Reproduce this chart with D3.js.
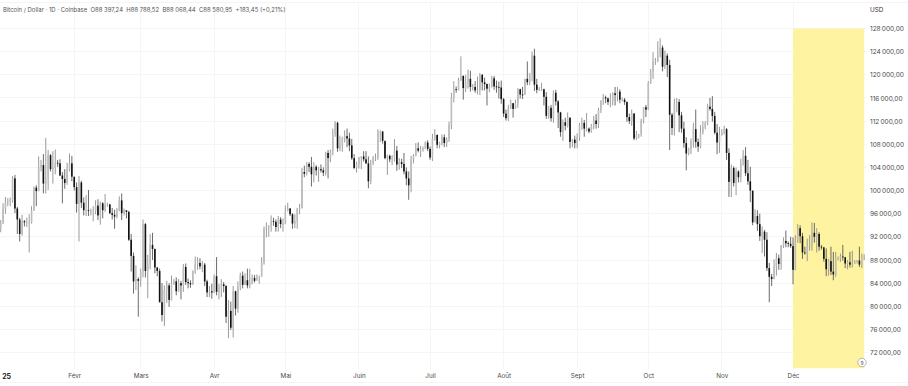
<!DOCTYPE html>
<html>
<head>
<meta charset="utf-8">
<script src="https://cdn.jsdelivr.net/npm/d3@7"></script>
<style>
    html, body { margin: 0; background: #fff; }
    svg { display: block; font-family: Inter, "Noto Sans", sans-serif; }
    .axis path, .axis line { display: none; }
    .axis text { fill: #4a4a4a; font-size: 6.5px; font-family: Inter, "Noto Sans", sans-serif; }
    .grid { stroke: #f5f5f5; stroke-width: 1; shape-rendering: crispEdges; }
</style>
</head>
<body>
<div id="chart"></div>
<script>
// daily values in thousands of USD, 2025
const firstOpen = 93.4;
const closes = [
    94.4,96.9,98.1,98.2,98.3,102.1,96.9,95.0,92.5,94.7,94.5,94.5,94.5,96.5,100.5,99.9,104.1,104.4,101.2,102.0,106.1,103.7,103.9,104.8,104.7,102.6,102.0,101.3,103.7,104.7,102.4,
    100.6,97.7,101.4,97.9,96.6,96.6,96.5,96.5,96.5,97.4,95.7,97.8,96.6,97.5,97.6,96.1,95.8,95.5,96.6,98.3,96.1,96.6,96.3,91.5,88.7,84.3,84.7,84.4,
    86.0,94.2,86.1,87.2,90.6,89.9,86.7,86.1,80.7,78.5,82.9,83.6,81.1,83.9,84.3,82.6,84.0,83.6,86.8,84.2,84.0,83.8,86.0,87.3,87.5,86.9,87.2,84.3,82.4,82.6,82.4,
    85.2,82.5,83.1,83.8,83.5,78.2,79.2,76.3,82.6,79.6,83.4,85.3,83.7,84.5,83.6,84.0,84.9,84.4,85.0,85.1,87.5,93.4,93.7,93.9,94.7,94.6,93.7,95.0,94.2,94.2,
    96.5,96.9,95.9,94.3,94.7,96.8,97.0,103.2,102.9,104.6,104.1,102.8,104.1,103.5,103.7,103.5,103.1,106.5,105.6,106.8,109.7,111.7,107.3,107.8,109.0,109.4,109.0,107.8,105.6,103.9,104.6,
    105.7,105.9,105.4,104.7,101.6,104.4,105.6,105.7,110.2,110.2,108.6,105.6,106.0,105.4,105.5,106.9,104.5,104.9,104.6,103.3,102.1,100.9,105.4,106.0,107.3,106.9,107.1,107.3,108.3,107.2,
    105.7,108.9,109.6,107.9,108.2,109.2,108.2,108.9,111.3,116.0,117.5,117.4,119.1,119.8,117.7,118.7,119.3,117.9,117.9,117.3,117.4,120.0,118.7,118.4,117.6,117.9,119.4,118.0,117.9,117.8,115.8,
    113.3,112.5,114.2,115.1,114.1,115.0,117.5,116.6,116.5,119.3,118.7,120.2,123.3,118.3,117.4,117.4,117.5,116.2,112.9,114.3,112.5,116.9,115.4,113.5,110.1,111.8,111.2,112.6,108.4,108.8,108.2,
    109.2,111.2,111.7,110.7,110.7,110.2,111.2,112.1,111.5,113.9,115.5,116.1,115.9,115.3,115.4,116.8,116.5,117.1,115.7,115.7,115.3,112.7,112.0,113.3,109.0,109.7,109.7,112.1,114.4,114.0,
    118.6,120.6,122.3,122.4,123.5,124.7,121.4,123.3,121.7,113.1,110.8,115.2,115.3,113.0,110.7,108.2,106.4,107.2,108.6,110.6,108.4,107.6,110.0,111.0,111.6,114.5,114.1,112.9,110.0,108.3,109.6,
    110.1,110.6,106.5,101.5,103.9,101.3,103.3,102.3,104.7,106.0,103.0,101.6,100.0,94.5,95.6,94.2,92.1,92.9,91.5,86.6,85.1,84.7,86.8,88.3,87.3,90.5,91.3,90.9,90.8,90.4,
    86.3,91.3,93.5,92.1,89.3,89.2,90.4,90.6,92.7,92.0,92.5,90.3,90.2,88.2,86.4,87.8,86.0,85.5,88.1,88.3,88.6,88.5,87.4,87.6,87.2,87.3,87.8,87.9,87.2,88.4,88.6
];
const highs = [
    94.9,97.8,98.9,98.7,98.8,102.5,102.7,97.2,95.3,95.8,94.9,95.3,95.9,97.3,100.7,100.9,105.9,105.3,106.3,109.1,107.0,106.3,106.8,107.1,105.3,105.4,103.2,103.7,104.8,106.4,106.0,
    102.0,101.4,102.5,101.7,98.8,99.2,100.1,96.9,97.3,98.3,98.5,98.1,98.0,99.4,97.9,97.7,97.0,96.7,97.0,99.0,99.5,96.9,96.5,96.5,92.5,89.3,87.1,85.0,
    86.5,95.0,94.4,88.9,92.5,92.7,90.0,86.8,86.5,84.0,83.6,84.4,84.0,85.3,84.7,85.0,84.7,84.4,87.3,87.4,84.8,84.5,86.2,88.6,88.5,88.3,87.8,87.5,84.6,83.5,83.9,
    85.5,88.5,83.9,84.7,84.2,83.7,81.1,80.8,83.5,82.7,84.3,85.8,86.0,85.7,86.5,86.5,85.5,85.4,85.5,85.3,88.5,93.8,94.5,94.0,95.7,95.3,95.0,95.6,95.4,95.2,
    97.4,97.9,97.0,96.1,95.9,97.0,97.7,103.9,104.3,104.9,104.9,105.8,104.9,104.4,104.1,104.5,104.0,106.7,107.0,107.1,110.7,112.0,111.9,109.5,109.3,110.4,110.7,110.0,108.9,106.3,105.0,
    105.8,105.9,106.8,106.8,105.9,105.3,106.0,106.4,110.6,110.4,110.3,108.4,106.2,106.2,106.1,108.9,107.7,105.6,105.5,106.5,104.0,103.3,106.0,106.3,108.2,108.3,107.7,107.6,108.5,108.7,
    107.6,109.8,110.6,109.7,108.4,109.7,109.7,109.2,111.9,116.9,118.9,118.0,119.5,123.2,119.9,120.0,120.9,120.7,118.4,118.9,119.7,120.3,120.1,119.5,118.5,118.5,119.8,119.8,119.0,118.8,119.0,
    116.0,114.0,114.8,115.7,115.1,115.7,117.7,117.6,117.9,119.3,122.3,120.3,124.0,124.5,119.3,117.9,118.6,117.6,117.0,114.6,114.8,117.3,117.4,115.6,113.6,112.3,112.6,113.5,112.6,108.9,109.5,
    109.9,111.7,112.6,112.2,113.4,110.9,111.5,112.9,113.2,114.3,115.6,116.7,116.4,116.1,116.8,117.0,117.9,117.9,117.5,116.1,116.0,115.4,113.3,114.0,113.4,110.3,109.8,112.4,114.4,114.8,
    118.9,121.0,123.9,122.9,125.8,126.3,125.1,124.2,123.7,122.6,113.4,115.9,116.0,115.8,113.6,111.9,109.2,107.4,109.0,111.7,114.0,109.0,111.3,112.0,112.0,115.0,116.0,116.3,113.6,111.5,111.0,
    110.6,111.2,110.8,107.3,104.5,104.2,104.0,103.5,105.5,107.0,107.5,105.3,104.1,99.9,96.8,96.6,96.0,93.8,93.2,92.8,87.5,85.6,88.1,89.2,88.9,90.6,91.9,93.1,91.2,92.0,
    91.9,92.3,94.2,94.0,92.7,90.3,91.7,92.3,94.5,94.4,93.5,92.8,90.6,89.6,90.0,88.2,90.3,89.4,89.4,88.6,89.1,90.6,88.0,88.0,89.4,89.6,88.0,88.0,90.3,89.1,89.0
];
const lows = [
    92.8,94.2,96.0,97.3,97.3,97.9,96.1,92.5,91.2,92.2,93.8,93.7,89.3,94.3,96.5,97.3,99.9,103.3,99.5,99.5,100.1,103.3,101.2,102.8,104.1,102.5,97.8,100.3,101.0,103.3,101.6,
    100.0,96.2,91.2,97.0,95.7,95.6,95.6,95.7,94.7,95.9,94.9,94.1,95.2,96.3,97.2,95.9,95.0,93.4,95.2,96.4,94.9,95.7,95.2,91.3,86.0,82.2,82.8,78.2,
    83.4,85.0,85.0,81.4,86.4,88.0,85.7,85.2,80.7,77.4,76.6,80.6,79.9,81.0,83.7,81.9,82.5,81.2,82.5,83.7,83.1,83.2,83.7,85.6,86.3,86.4,85.9,83.5,81.6,81.6,81.3,
    82.3,81.9,81.2,81.6,82.4,77.1,74.5,75.9,74.6,78.4,78.9,82.8,83.1,83.7,83.1,83.1,83.8,84.1,84.5,83.9,85.1,87.2,91.9,92.0,92.9,93.9,92.9,92.9,93.5,92.9,
    94.2,96.4,95.6,93.4,93.5,93.4,95.9,96.9,102.3,102.6,103.2,100.7,101.4,102.6,101.5,103.1,102.5,102.6,102.1,104.9,106.1,109.3,106.7,106.8,106.7,108.3,107.5,106.8,105.3,103.7,103.1,
    103.8,103.7,105.0,104.6,100.4,101.1,104.8,105.1,105.3,108.4,108.1,105.4,102.7,104.9,104.4,105.0,103.4,103.6,103.9,102.8,100.9,98.4,99.7,104.7,105.9,106.6,105.8,106.7,107.2,106.8,
    105.3,105.1,108.6,107.3,107.3,107.8,107.5,107.5,108.4,110.6,115.2,116.9,117.3,118.9,115.7,117.0,117.6,117.1,117.3,116.9,116.6,116.5,117.3,117.3,114.7,117.0,117.8,117.4,116.9,115.9,115.0,
    112.7,112.1,112.0,114.1,112.6,114.3,114.3,115.9,115.8,116.7,118.2,118.2,118.9,117.2,116.8,117.2,117.2,114.7,112.4,112.4,111.9,111.7,114.7,110.8,109.3,108.6,110.4,110.9,107.3,107.5,107.3,
    107.3,108.6,110.5,109.3,110.2,109.9,110.0,110.6,110.7,110.8,113.4,114.8,115.1,114.8,114.4,114.7,114.7,115.4,115.1,115.4,114.8,111.9,111.5,111.2,108.7,108.7,109.0,109.3,111.6,112.7,
    113.9,118.4,119.3,121.7,122.2,123.0,120.6,121.0,119.6,107.0,109.6,109.5,113.5,110.1,110.0,107.4,103.5,106.1,106.3,107.4,107.4,106.7,107.3,109.7,110.6,111.3,113.8,111.9,109.7,106.3,106.5,
    109.5,109.7,105.3,98.9,98.9,100.7,99.2,101.4,101.4,104.3,102.5,101.0,98.0,94.0,94.5,93.0,91.3,89.2,88.6,86.1,80.7,83.5,84.7,85.3,86.3,86.3,90.1,90.2,90.2,90.1,
    83.8,86.2,91.0,90.9,88.2,88.9,87.8,89.6,89.6,91.0,89.3,89.6,89.8,87.7,85.2,85.3,85.4,84.5,85.1,87.9,87.7,87.9,86.6,86.4,86.7,86.7,87.3,87.4,86.8,86.6,88.0
];
const priceTicks = [128,124,120,116,112,108,104,100,96,92,88,84,80,76,72];
const monthLabels = ["25","Févr","Mars","Avr","Mai","Juin","Juil","Août","Sept","Oct","Nov","Déc"];
const highlightFrom = new Date(Date.UTC(2025, 11, 1));
const highlightTo = new Date(Date.UTC(2025, 11, 31));
const highlightPrices = [128, 69.3];
const title = "Bitcoin / Dollar · 1D · Coinbase";
const quotes = "O88 397,24  H88 788,52  B88 068,44  C88 580,95  +183,45 (+0,21%)";

const width = 908, height = 386;

const data = closes.map((c, i) => ({
    date: new Date(Date.UTC(2025, 0, 1 + i)),
    open: i === 0 ? firstOpen : closes[i - 1],
    close: c,
    high: highs[i],
    low: lows[i]
}));

const x = d3.scaleUtc()
    .domain([new Date(Date.UTC(2025, 0, 1)), new Date(Date.UTC(2025, 11, 1))])
    .range([0.7, 793]);

const y = d3.scaleLinear()
    .domain([72, 128])
    .range([352.6, 28.5]);

const svg = d3.select("#chart").append("svg")
    .attr("width", width)
    .attr("height", height);

const monthTicks = monthLabels.map((d, i) => new Date(Date.UTC(2025, i, 1)));

// Grille
svg.append("g").selectAll("line")
    .data(priceTicks)
    .join("line")
    .attr("class", "grid")
    .attr("x1", 0)
    .attr("x2", 867)
    .attr("y1", d => y(d))
    .attr("y2", d => y(d));

svg.append("g").selectAll("line")
    .data(monthTicks.slice(1))
    .join("line")
    .attr("class", "grid")
    .attr("x1", d => x(d))
    .attr("x2", d => x(d))
    .attr("y1", 3)
    .attr("y2", 369);

// bordures claires haut / bas
[2, 382].forEach(v => {
    svg.append("line").attr("class", "grid").attr("x1", 0).attr("x2", 908).attr("y1", v).attr("y2", v);
});

// Zone surlignée
svg.append("rect")
    .attr("x", x(highlightFrom))
    .attr("y", y(highlightPrices[0]))
    .attr("width", x(highlightTo) - x(highlightFrom))
    .attr("height", y(highlightPrices[1]) - y(highlightPrices[0]))
    .attr("fill", "#fef3a1");

// Bougies
const candles = svg.append("g")
    .style("filter", "blur(0.45px)")
    .selectAll("g")
    .data(data)
    .join("g")
    .attr("transform", d => `translate(${x(d.date)},0)`);

candles.append("line")
    .attr("y1", d => y(d.high))
    .attr("y2", d => y(d.low))
    .attr("stroke", d => d.close >= d.open ? "#8f8f8f" : "#5a5a5a")
    .attr("stroke-width", 0.9);

candles.append("rect")
    .attr("x", -0.8)
    .attr("width", 1.6)
    .attr("y", d => y(Math.max(d.open, d.close)))
    .attr("height", d => Math.max(0.8, Math.abs(y(d.open) - y(d.close))))
    .attr("fill", d => d.close >= d.open ? "#bdbdbd" : "#111")
    .attr("stroke", "none");

// Axes
const fr = d3.formatLocale({ decimal: ",", thousands: "\u202f", grouping: [3], currency: ["", " USD"] });
const priceFormat = fr.format(",.2f");

svg.append("g")
    .attr("class", "axis")
    .attr("transform", "translate(870,0)")
    .call(d3.axisRight(y).tickValues(priceTicks).tickSize(0).tickPadding(0).tickFormat(d => priceFormat(d * 1000)));

const xAxis = svg.append("g")
    .attr("class", "axis")
    .attr("transform", "translate(0,374)")
    .call(d3.axisBottom(x).tickValues(monthTicks).tickSize(0).tickPadding(0).tickFormat((d, i) => monthLabels[i]));
xAxis.selectAll("text").attr("dy", "0.71em").style("font-size", "6.3px");
xAxis.selectAll("text").filter((d, i) => i === 0)
    .style("font-weight", 700)
    .style("fill", "#222")
    .style("font-size", "7px")
    .attr("text-anchor", "start")
    .attr("x", 1);

svg.append("text")
    .attr("x", 870)
    .attr("y", 12)
    .attr("font-size", 6.3)
    .attr("fill", "#333")
    .text("USD");

// Titre et cotations
svg.append("text")
    .attr("x", 3)
    .attr("y", 12)
    .attr("font-size", 5.95)
    .attr("fill", "#555")
    .attr("xml:space", "preserve")
    .text(title + "  " + quotes);

// pastille en bas à droite
const badge = svg.append("g").attr("transform", "translate(862,362.5)");
badge.append("circle").attr("r", 4.2).attr("fill", "#fff").attr("stroke", "#999").attr("stroke-width", 0.7);
badge.append("text").attr("text-anchor", "middle").attr("y", 2).attr("font-size", 5).attr("fill", "#555").text("9");
</script>
</body>
</html>
